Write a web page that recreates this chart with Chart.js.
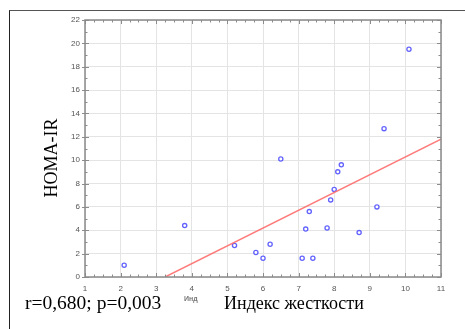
<!DOCTYPE html>
<html>
<head>
<meta charset="utf-8">
<script src="https://cdn.jsdelivr.net/npm/chart.js@4.4.0/dist/chart.umd.min.js"></script>
<style>
  html, body { margin: 0; padding: 0; background: #fff; }
  #wrap { position: relative; width: 465px; height: 329px; }
  #frame { position: absolute; left: 9px; top: 10px; right: 0; bottom: 0;
           border-top: 1.5px solid #555; border-left: 1.5px solid #222; }
  canvas { position: absolute; left: 0; top: 0; }
  .txt { position: absolute; font-family: "Liberation Serif", "Times New Roman", serif; color: #000; white-space: nowrap; }
  #ytitle { left: 51px; top: 158px; font-size: 18px; transform: translate(-50%, -50%) rotate(-90deg); }
  #stat { left: 25px; top: 292px; font-size: 19.5px; }
  #xtitle { left: 224px; top: 293px; font-size: 18px; }
  #small { left: 184px; top: 295px; font-family: "Liberation Sans", Arial, sans-serif; font-size: 7px; color: #777; font-weight: bold; }
</style>
</head>
<body>
<div id="wrap">
  <canvas id="chart" width="465" height="329"></canvas>
  <div id="frame"></div>
  <div class="txt" id="ytitle">HOMA-IR</div>
  <div class="txt" id="small">Инд</div>
  <div class="txt" id="stat">r=0,680; p=0,003</div>
  <div class="txt" id="xtitle">Индекс жесткости</div>
</div>
<script>
// Stiffness index vs HOMA-IR
const stiffness = [2.1, 3.8, 5.2, 5.8, 6.0, 6.2, 6.5, 7.1, 7.2, 7.3, 7.4, 7.8, 7.9, 8.0, 8.1, 8.2, 8.7, 9.2, 9.4, 10.1];
const homaIR    = [1.0, 4.4, 2.7, 2.1, 1.6, 2.8, 10.1, 1.6, 4.1, 5.6, 1.6, 4.2, 6.6, 7.5, 9.0, 9.6, 3.8, 6.0, 12.7, 19.5];

// fitted line end points
const fitX = [3.25, 11];
const fitY = [0, 11.8];

const xTicks = [1, 2, 3, 4, 5, 6, 7, 8, 9, 10, 11];
const yTicks = [0, 2, 4, 6, 8, 10, 12, 14, 16, 18, 20, 22];

const points = stiffness.map((x, i) => ({ x: x, y: homaIR[i] }));
const fitLine = fitX.map((x, i) => ({ x: x, y: fitY[i] }));

const axisColor = '#8c8c8c';

// draws the plot frame and the small inward ticks
const framePlugin = {
    id: 'frame',
    afterDatasetsDraw(chart) {
        const c = chart.ctx;
        const a = chart.chartArea;
        const xs = chart.scales.x, ys = chart.scales.y;
        c.save();
        c.strokeStyle = axisColor;
        c.lineWidth = 1;
        c.beginPath();
        for (let v = 1; v <= 11.001; v += 0.25) {
            const px = Math.round(xs.getPixelForValue(v)) + 0.5;
            const len = Math.abs(v - Math.round(v)) < 0.01 ? 4 : 2.5;
            c.moveTo(px, a.bottom); c.lineTo(px, a.bottom - len);
            c.moveTo(px, a.top); c.lineTo(px, a.top + len);
        }
        for (let v = 0; v <= 22; v += 1) {
            const py = Math.round(ys.getPixelForValue(v)) + 0.5;
            const len = v % 2 === 0 ? 4 : 2.5;
            c.moveTo(a.left, py); c.lineTo(a.left + len, py);
            c.moveTo(a.right, py); c.lineTo(a.right - len, py);
            if (v % 2 === 0) { c.moveTo(a.left, py); c.lineTo(a.left - 3, py); }
        }
        c.stroke();
        c.lineWidth = 1.5;
        c.strokeStyle = '#8a8a8a';
        c.strokeRect(a.left, a.top, a.right - a.left, a.bottom - a.top);
        c.restore();
    }
};

const tickFont = { family: 'Liberation Sans, Arial, sans-serif', size: 8 };

new Chart(document.getElementById('chart'), {
    type: 'scatter',
    data: {
        datasets: [{
            data: fitLine,
            type: 'line',
            showLine: true,
            borderColor: 'rgba(255, 110, 110, 0.9)',
            borderWidth: 1.5,
            pointRadius: 0,
            fill: false,
            clip: true
        }, {
            data: points,
            pointRadius: 2.1,
            pointBorderWidth: 1.3,
            pointBorderColor: 'rgba(70, 70, 255, 0.85)',
            pointBackgroundColor: '#ffffff'
        }]
    },
    options: {
        responsive: false,
        animation: false,
        layout: { padding: 0 },
        plugins: { legend: { display: false }, tooltip: { enabled: false } },
        scales: {
            x: {
                type: 'linear',
                min: 1, max: 11,
                afterBuildTicks: s => { s.ticks = xTicks.map(v => ({ value: v })); },
                afterFit: s => { s.height = 52; },
                grid: { color: '#e4e4e4', drawTicks: false },
                border: { display: false },
                ticks: { font: tickFont, color: '#555', padding: 7, maxRotation: 0 }
            },
            y: {
                type: 'linear',
                min: 0, max: 22,
                afterBuildTicks: s => { s.ticks = yTicks.map(v => ({ value: v })); },
                afterFit: s => { s.width = 85; },
                grid: { color: '#e4e4e4', drawTicks: false },
                border: { display: false },
                ticks: { font: tickFont, color: '#555', padding: 5 }
            },
            xTop: {
                type: 'linear', position: 'top', min: 1, max: 11,
                afterFit: s => { s.height = 20; },
                grid: { display: false }, border: { display: false },
                ticks: { display: false }
            },
            yRight: {
                type: 'linear', position: 'right', min: 0, max: 22,
                afterFit: s => { s.width = 24; },
                grid: { display: false }, border: { display: false },
                ticks: { display: false }
            }
        }
    },
    plugins: [framePlugin]
});
</script>
</body>
</html>
